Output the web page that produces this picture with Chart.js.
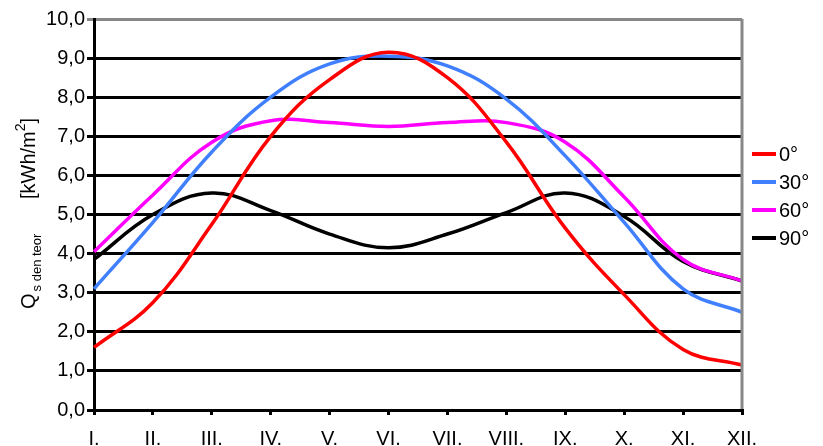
<!DOCTYPE html>
<html>
<head>
<meta charset="utf-8">
<script src="https://cdn.jsdelivr.net/npm/chart.js@4/dist/chart.umd.min.js"></script>
<style>
  html, body { margin: 0; padding: 0; background: #fff; }
  #wrap { width: 823px; height: 446px; position: relative; }
</style>
</head>
<body>
<div id="wrap"><canvas id="chart"></canvas></div>
<script>
// months on x axis
const months = ['I.', 'II.', 'III.', 'IV.', 'V.', 'VI.', 'VII.', 'VIII.', 'IX.', 'X.', 'XI.', 'XII.'];
// tick labels for the y axis (kWh/m2)
const yTickLabels = ['0,0', '1,0', '2,0', '3,0', '4,0', '5,0', '6,0', '7,0', '8,0', '9,0', '10,0'];

// series, one per surface tilt
const tilt0  = [1.6, 2.75, 4.75, 7.0, 8.45, 9.15, 8.5, 6.85, 4.65, 2.95, 1.55, 1.15];
const tilt30 = [3.1, 4.8, 6.6, 8.0, 8.85, 9.05, 8.8, 7.95, 6.5, 4.8, 3.1, 2.5];
const tilt60 = [4.05, 5.5, 6.85, 7.4, 7.35, 7.25, 7.35, 7.35, 6.85, 5.45, 3.85, 3.3];
const tilt90 = [3.85, 5.0, 5.55, 5.1, 4.5, 4.15, 4.5, 5.05, 5.55, 4.95, 3.8, 3.3];

const seriesNames = ['0°', '30°', '60°', '90°'];
const seriesColors = ['#ff0000', '#4080ff', '#ff00ff', '#000000'];

const FONT = '"Liberation Sans", Arial, sans-serif';

let makeSet = (label, data, color) => ({
	label: label,
	data: data,
	borderColor: color,
	backgroundColor: color,
	borderWidth: 3.5,
	pointRadius: 0,
	tension: 0.4,
	fill: false
});

// axis title with subscript/superscript, legend and the grey frame
const extras = {
	id: 'extras',
	afterDraw: (chart) => {
		const ctx = chart.ctx;
		const area = chart.chartArea;
		ctx.save();

		// grey frame on the right
		ctx.strokeStyle = '#888';
		ctx.lineWidth = 3;
		ctx.beginPath();
		ctx.moveTo(area.right, area.top);
		ctx.lineTo(area.right, area.bottom - 1);
		ctx.stroke();

		// y title, rotated
		ctx.translate(35, 309);
		ctx.rotate(-Math.PI / 2);
		ctx.fillStyle = '#000';
		ctx.textBaseline = 'alphabetic';
		ctx.font = '20px ' + FONT;
		ctx.fillText('Q', 0, 0);
		let x = ctx.measureText('Q').width + 2;
		ctx.font = '13px ' + FONT;
		ctx.fillText('s den teor', x, 6);
		x = 110;
		ctx.font = '20px ' + FONT;
		ctx.fillText('[kWh/m', x, 0);
		x += ctx.measureText('[kWh/m').width;
		ctx.font = '14px ' + FONT;
		ctx.fillText('2', x, -10);
		x += ctx.measureText('2').width;
		ctx.font = '20px ' + FONT;
		ctx.fillText(']', x, 0);
		ctx.restore();

		// legend
		ctx.save();
		ctx.font = '20px ' + FONT;
		ctx.textBaseline = 'middle';
		chart.data.datasets.forEach((ds, i) => {
			let y = 154 + i * 28;
			ctx.strokeStyle = ds.borderColor;
			ctx.lineWidth = 4;
			ctx.beginPath();
			ctx.moveTo(752, y);
			ctx.lineTo(776, y);
			ctx.stroke();
			ctx.fillStyle = '#000';
			ctx.fillText(ds.label, 779, y + 1);
		});
		ctx.restore();
	}
};

new Chart(document.getElementById('chart'), {
	type: 'line',
	data: {
		labels: months,
		datasets: [
			makeSet(seriesNames[0], tilt0, seriesColors[0]),
			makeSet(seriesNames[1], tilt30, seriesColors[1]),
			makeSet(seriesNames[2], tilt60, seriesColors[2]),
			makeSet(seriesNames[3], tilt90, seriesColors[3])
		]
	},
	options: {
		responsive: true,
		maintainAspectRatio: false,
		animation: false,
		layout: { padding: { left: 0, right: 81, top: 19, bottom: 0 } },
		plugins: {
			legend: { display: false },
			tooltip: { enabled: false }
		},
		scales: {
			x: {
				offset: false,
				grid: {
					drawOnChartArea: false,
					drawTicks: true,
					tickLength: 5,
					color: '#000',
					lineWidth: 3
				},
				border: { color: '#000', width: 3 },
				ticks: {
					color: '#000',
					padding: 12,
					maxRotation: 0,
					autoSkip: false,
					font: { family: FONT, size: 20 }
				},
				afterFit: (scale) => { scale.height = 36; }
			},
			y: {
				min: 0,
				max: 10,
				grid: {
					color: (c) => c.tick && c.tick.value === 10 ? '#888' : '#000',
					lineWidth: 3,
					tickLength: 7,
					drawTicks: true
				},
				border: { color: '#000', width: 3 },
				ticks: {
					stepSize: 1,
					color: '#000',
					padding: 2,
					font: { family: FONT, size: 20 },
					callback: (v, i) => yTickLabels[i]
				},
				afterFit: (scale) => { scale.width = 94; }
			}
		}
	},
	plugins: [extras]
});
</script>
</body>
</html>
